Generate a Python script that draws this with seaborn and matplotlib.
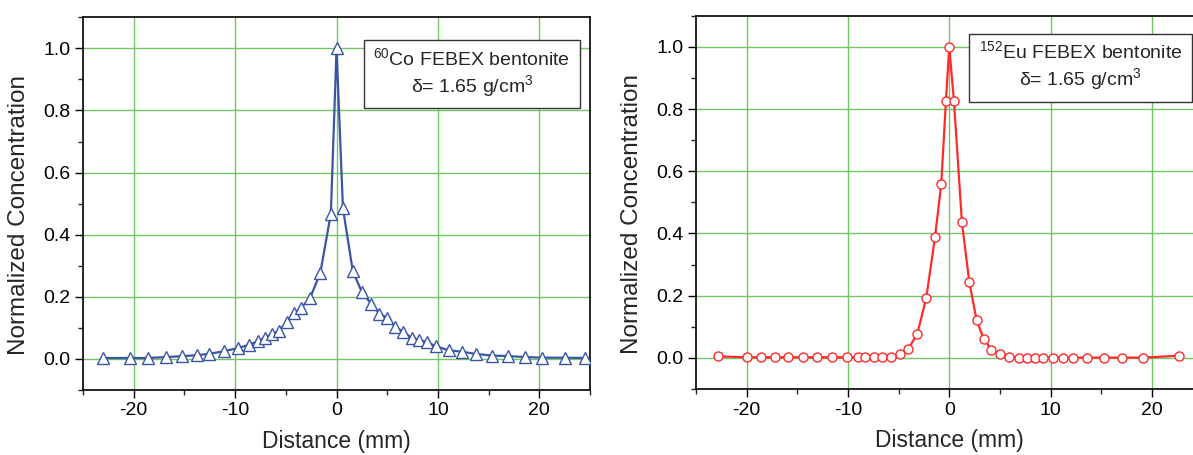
import numpy as np
import pandas as pd
import seaborn as sns
from matplotlib import pyplot as plt
from matplotlib.ticker import MultipleLocator

# 60Co profile (distance in mm, normalized concentration)
co_distance = [-23.0, -20.4, -18.6, -16.8, -15.2, -13.8, -12.6, -11.1, -9.7, -8.6,
               -7.7, -7.1, -6.4, -5.7, -4.9, -4.2, -3.5, -2.6, -1.6, -0.56,
               0.0, 0.63, 1.6, 2.5, 3.4, 4.2, 5.0, 5.8, 6.6, 7.4,
               8.1, 8.9, 9.8, 11.05, 12.4, 13.75, 15.3, 16.9, 18.6, 20.3,
               22.5, 24.5]
co_conc = [0.003, 0.003, 0.003, 0.006, 0.009, 0.012, 0.016, 0.025, 0.035, 0.046,
           0.058, 0.068, 0.080, 0.090, 0.118, 0.148, 0.164, 0.197, 0.277, 0.468,
           1.0, 0.486, 0.283, 0.215, 0.178, 0.146, 0.132, 0.103, 0.087, 0.068,
           0.062, 0.054, 0.041, 0.028, 0.023, 0.016, 0.011, 0.009, 0.006, 0.004,
           0.004, 0.003]

# 152Eu profile
eu_distance = [-22.8, -20.0, -18.6, -17.2, -15.9, -14.4, -13.1, -11.6, -10.1, -9.0,
               -8.3, -7.4, -6.6, -5.8, -4.9, -4.05, -3.16, -2.27, -1.41, -0.79,
               -0.33, 0.0, 0.46, 1.25, 1.97, 2.7, 3.39, 4.14, 4.97, 5.86,
               6.84, 7.7, 8.45, 9.24, 10.2, 11.2, 12.24, 13.6, 15.26, 17.04,
               19.1, 22.66]
eu_conc = [0.005, 0.002, 0.002, 0.002, 0.002, 0.002, 0.002, 0.002, 0.002, 0.002,
           0.002, 0.002, 0.002, 0.004, 0.012, 0.029, 0.077, 0.193, 0.388, 0.56,
           0.826, 1.0, 0.826, 0.436, 0.245, 0.121, 0.062, 0.027, 0.011, 0.003,
           0.001, 0.001, 0.001, 0.001, 0.001, 0.001, 0.001, 0.001, 0.001, 0.001,
           0.001, 0.007]

sns.set_theme(style='ticks')
plt.rcParams['font.family'] = ['Liberation Sans', 'DejaVu Sans']
plt.rcParams['mathtext.default'] = 'regular'
plt.rcParams['axes.unicode_minus'] = False

fig = plt.figure(figsize=(11.93, 4.55), dpi=100)
ax1 = fig.add_axes([0.0696, 0.1429, 0.425, 0.819])
ax2 = fig.add_axes([0.5834, 0.145, 0.4246, 0.8204])

grid_color = '#72c464'


def draw_panel(ax, x, y, color, marker, msize):
    df = pd.DataFrame({'Distance': x, 'Conc': y})
    sns.lineplot(data=df, x='Distance', y='Conc', ax=ax, color=color,
                 linewidth=1.6, marker=marker, markersize=msize,
                 markerfacecolor='white', markeredgecolor=color,
                 markeredgewidth=1.0, zorder=3)
    ax.set_xlim(-25, 25)
    ax.set_ylim(-0.1, 1.1)
    ax.xaxis.set_major_locator(MultipleLocator(10))
    ax.xaxis.set_minor_locator(MultipleLocator(5))
    ax.yaxis.set_major_locator(MultipleLocator(0.2))
    ax.yaxis.set_minor_locator(MultipleLocator(0.1))
    ax.yaxis.set_major_formatter(plt.FormatStrFormatter('%.1f'))
    ax.grid(True, which='major', color=grid_color, linewidth=1.0, zorder=0)
    ax.tick_params(axis='both', which='major', direction='out', length=6,
                   width=1.0, labelsize=14, pad=3, colors='black')
    ax.tick_params(axis='both', which='minor', direction='out', length=3.5,
                   width=1.0)
    for s in ax.spines.values():
        s.set_color('black')
        s.set_linewidth(1.2)
    ax.set_xlabel('Distance (mm)', fontsize=16.5)
    ax.set_ylabel('Normalized Concentration', fontsize=17.5)
    ax.xaxis.set_label_coords(0.5, -0.108)
    ax.yaxis.set_label_coords(-0.105, 0.47)
    return ax


draw_panel(ax1, co_distance, co_conc, '#3a55a4', '^', 8)
draw_panel(ax2, eu_distance, eu_conc, '#ff2a2a', 'o', 6.5)

box = dict(boxstyle='square,pad=0.5', facecolor='white', edgecolor='#333333',
           linewidth=1.0)
ax1.text(0.767, 0.851, '$^{60}$Co FEBEX bentonite\nδ= 1.65 g/cm$^3$',
         transform=ax1.transAxes, ha='center', va='center', fontsize=14,
         multialignment='center', bbox=box, zorder=5)
ax2.text(0.759, 0.865, '$^{152}$Eu FEBEX bentonite\nδ= 1.65 g/cm$^3$',
         transform=ax2.transAxes, ha='center', va='center', fontsize=14,
         multialignment='center', bbox=box, zorder=5)

fig.savefig('out.png', dpi=100)
